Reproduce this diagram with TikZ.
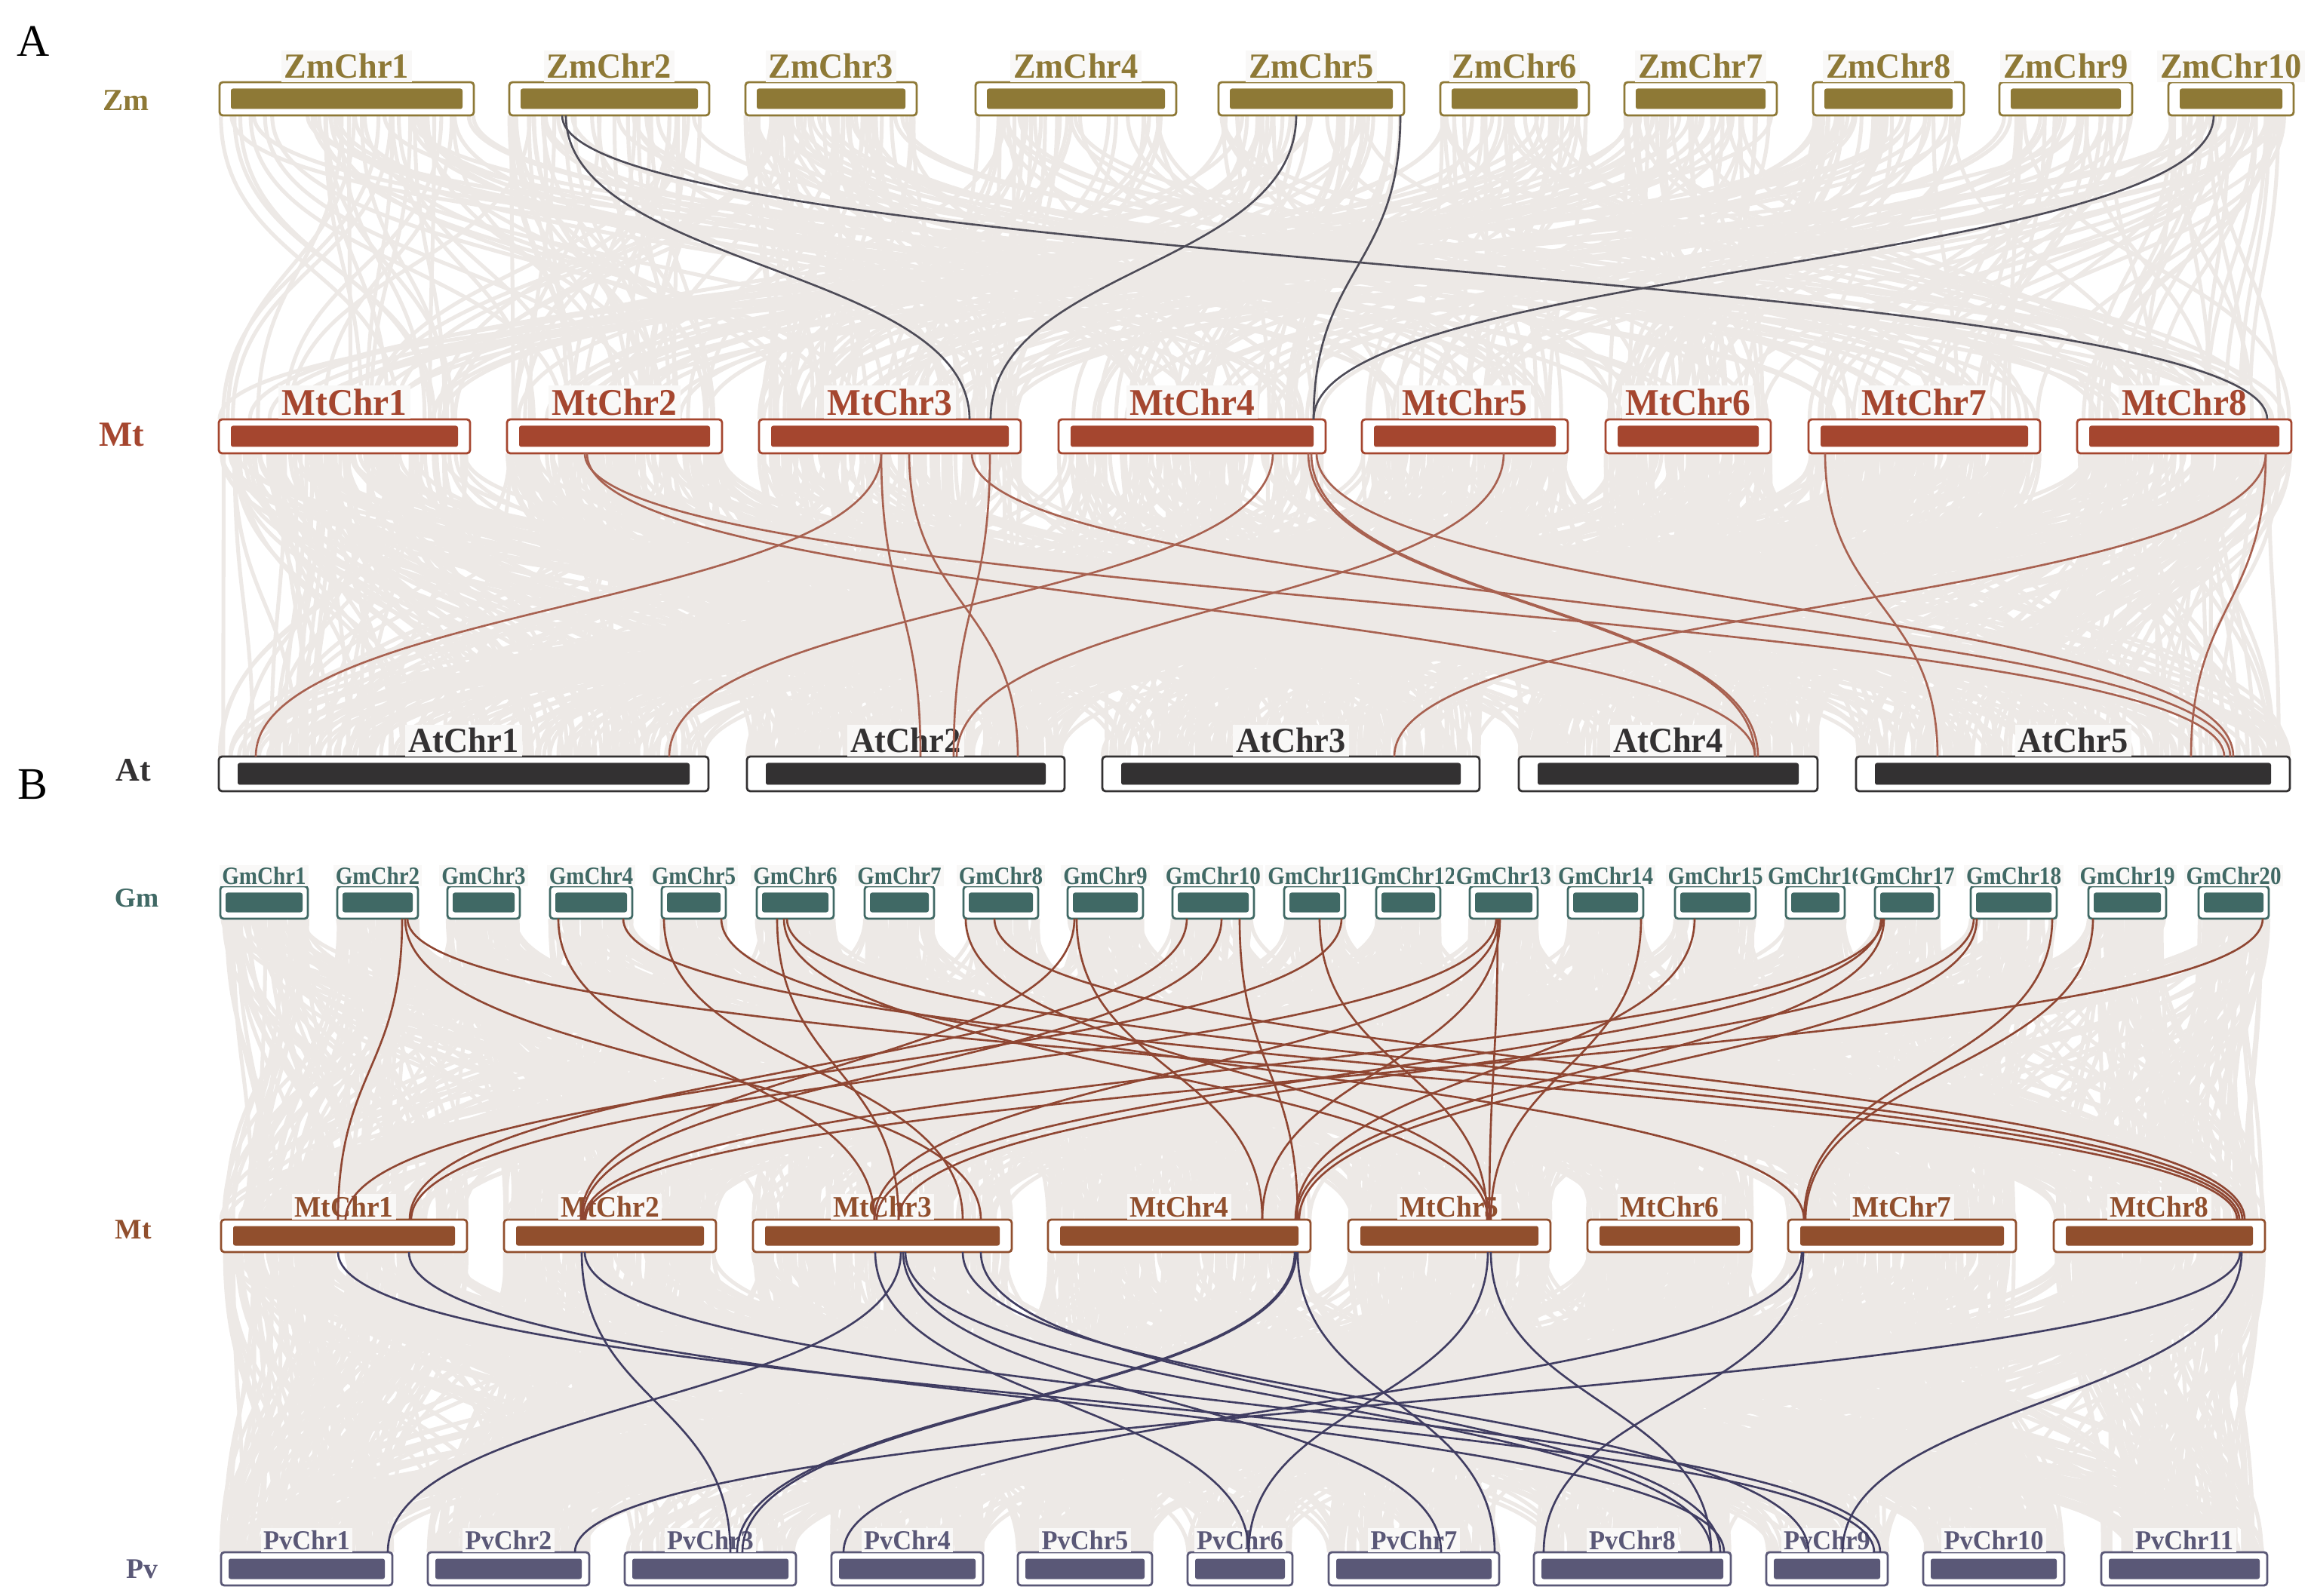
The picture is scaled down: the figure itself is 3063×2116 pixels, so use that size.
\documentclass[tikz,border=0pt]{standalone}
\usepackage{fontspec}
\setmainfont{Liberation Serif}
\newfontfamily\labfont{Liberation Serif}[FakeStretch=0.95]
\newfontfamily\labfontn{Liberation Serif}[FakeStretch=0.88]
\definecolor{zmc}{HTML}{8E7936}
\definecolor{mtac}{HTML}{A5462F}
\definecolor{atc}{HTML}{333132}
\definecolor{gmc}{HTML}{406965}
\definecolor{mtbc}{HTML}{914F2D}
\definecolor{pvc}{HTML}{5A5877}
\definecolor{grl}{HTML}{EDE9E6}
\definecolor{hzm}{HTML}{4D4B57}
\definecolor{hat}{HTML}{A86150}
\definecolor{hgm}{HTML}{8F4632}
\definecolor{hpv}{HTML}{403D62}
\definecolor{labbg}{HTML}{F9F8F7}

% chromosome: name, x1, x2, y1, y2, colour, inner margin, label, label y
\newcommand\chrom[9]{%
  \draw[draw=#6, line width=0.8pt, fill=white, rounded corners=1.2pt] (#2,#4) rectangle (#3,#5);
  \fill[#6, rounded corners=0.8pt] ({#2+#7},{#4+8.5}) rectangle ({#3-#7},{#5-8.5});
  \node[labstyle, text=#6] (#1) at ({(#2+#3)/2},#9) {#8};
}
% synteny link: style, x1, y1, x2, y2
\newcommand\lk[5]{\draw[#1] (#2,#3) .. controls (#2,{(#3+#5)/2}) and (#4,{(#3+#5)/2}) .. (#4,#5);}
% background band: N, starts1, ends1, last index1, y1, starts2, ends2, last index2, y2
\newcommand\grayband[9]{%
  \foreach \i in {1,...,#1}{%
    \pgfmathtruncatemacro\ka{random(0,#4)}%
    \pgfmathsetmacro\pl{rnd}%
    \pgfmathtruncatemacro\kb{\pl<0.45 ? round(\ka*#8/#4) : random(0,#8)}%
    \pgfmathsetmacro\xa{#2[\ka]+rnd*(#3[\ka]-#2[\ka])}%
    \pgfmathsetmacro\xb{#6[\kb]+rnd*(#7[\kb]-#6[\kb])}%
    \draw[grayln] (\xa,#5) .. controls (\xa,{(#5+#9)/2}) and (\xb,{(#5+#9)/2}) .. (\xb,#9);
  }}

\def\ZS{{291,675,988,1293,1615,1909,2153,2403,2650,2874}}
\def\ZE{{628,940,1215,1559,1861,2106,2355,2603,2826,3040}}
\def\MAS{{290,672,1006,1403,1805,2128,2397,2753}}
\def\MAE{{623,957,1353,1757,2078,2347,2704,3037}}
\def\AS{{290,990,1461,2013,2460}}
\def\AE{{939,1411,1961,2409,3035}}
\def\GS{{292,447,593,729,877,1003,1146,1277,1415,1554,1702,1824,1948,2078,2220,2367,2485,2612,2768,2914}}
\def\GE{{408,554,689,838,962,1105,1238,1376,1515,1662,1783,1909,2038,2178,2327,2445,2570,2726,2871,3007}}
\def\MBS{{293,668,998,1389,1787,2104,2370,2722}}
\def\MBE{{619,949,1341,1737,2055,2322,2672,3002}}
\def\PS{{293,567,828,1102,1349,1574,1761,2033,2341,2549,2785}}
\def\PE{{520,781,1055,1303,1527,1713,1987,2294,2502,2736,3005}}

\begin{document}
\begin{tikzpicture}[x=0.01cm,y=-0.01cm,
  grayln/.style={draw=grl, line width=1.45pt},
  hzml/.style={draw=hzm, line width=0.75pt},
  hatl/.style={draw=hat, line width=0.75pt},
  hgml/.style={draw=hgm, line width=0.75pt},
  hpvl/.style={draw=hpv, line width=0.75pt},
  rowlab/.style={font=\bfseries\fontsize{#1}{#1}\selectfont},
  panel/.style={font=\fontsize{17}{18}\selectfont}]
\useasboundingbox (0,0) rectangle (3063,2116);
\pgfmathsetseed{4242}

% ---------- background synteny ----------
\grayband{420}{\ZS}{\ZE}{9}{153}{\MAS}{\MAE}{7}{556}
\grayband{1100}{\MAS}{\MAE}{7}{601}{\AS}{\AE}{4}{1003}
\grayband{1500}{\GS}{\GE}{19}{1218}{\MBS}{\MBE}{7}{1617}
\grayband{1500}{\MBS}{\MBE}{7}{1660}{\PS}{\PE}{10}{2058}

% ---------- panel labels and row labels ----------
\node[panel] (pA) at (44,55) {A};
\node[panel] (pB) at (43,1040) {B};
\node[rowlab=11.6, text=zmc] (rzm) at (167,133) {Zm};
\node[rowlab=13.3, text=mtac] (rmta) at (161,576) {Mt};
\node[rowlab=12.5, text=atc] (rat) at (177,1021) {At};
\node[rowlab=10.3, text=gmc] (rgm) at (181,1191) {Gm};
\node[rowlab=10.7, text=mtbc] (rmtb) at (177,1630) {Mt};
\node[rowlab=10.7, text=pvc] (rpv) at (188,2080) {Pv};

% ---------- chromosomes ----------
\tikzset{labstyle/.style={font=\labfont\bfseries\fontsize{13.3}{14}\selectfont, fill=labbg, inner sep=1.2pt}}
\foreach \n/\a/\b in {1/291/628,2/675/940,3/988/1215,4/1293/1559,5/1615/1861,6/1909/2106,7/2153/2355,8/2403/2603,9/2650/2826,10/2874/3040}
  {\chrom{zm\n}{\a}{\b}{109}{153}{zmc}{15}{ZmChr\n}{88}}
\tikzset{labstyle/.style={font=\labfont\bfseries\fontsize{14.2}{15}\selectfont, fill=labbg, inner sep=1.2pt}}
\foreach \n/\a/\b in {1/290/623,2/672/957,3/1006/1353,4/1403/1757,5/1805/2078,6/2128/2347,7/2397/2704,8/2753/3037}
  {\chrom{mta\n}{\a}{\b}{556}{601}{mtac}{16}{MtChr\n}{533}}
\tikzset{labstyle/.style={font=\labfont\bfseries\fontsize{13.3}{14}\selectfont, fill=labbg, inner sep=1.2pt}}
\foreach \n/\a/\b in {1/290/939,2/990/1411,3/1461/1961,4/2013/2409,5/2460/3035}
  {\chrom{at\n}{\a}{\b}{1003}{1049}{atc}{25}{AtChr\n}{982}}
\tikzset{labstyle/.style={font=\labfontn\bfseries\fontsize{9.4}{10}\selectfont, fill=labbg, inner sep=0.8pt}}
\foreach \n/\a/\b in {1/292/408,2/447/554,3/593/689,4/729/838,5/877/962,6/1003/1105,7/1146/1238,8/1277/1376,9/1415/1515,10/1554/1662,11/1702/1783,12/1824/1909,13/1948/2038,14/2078/2178,15/2220/2327,16/2367/2445,17/2485/2570,18/2612/2726,19/2768/2871,20/2914/3007}
  {\chrom{gm\n}{\a}{\b}{1175}{1218}{gmc}{7}{GmChr\n}{1161}}
\tikzset{labstyle/.style={font=\labfont\bfseries\fontsize{11.2}{12}\selectfont, fill=labbg, inner sep=1pt}}
\foreach \n/\a/\b in {1/293/619,2/668/949,3/998/1341,4/1389/1737,5/1787/2055,6/2104/2322,7/2370/2672,8/2722/3002}
  {\chrom{mtb\n}{\a}{\b}{1617}{1660}{mtbc}{16}{MtChr\n}{1600}}
\tikzset{labstyle/.style={font=\labfont\bfseries\fontsize{10.3}{11}\selectfont, fill=labbg, inner sep=1pt}}
\foreach \n/\a/\b in {1/293/520,2/567/781,3/828/1055,4/1102/1303,5/1349/1527,6/1574/1713,7/1761/1987,8/2033/2294,9/2341/2502,10/2549/2736,11/2785/3005}
  {\chrom{pv\n}{\a}{\b}{2058}{2102}{pvc}{10}{PvChr\n}{2042}}

% ---------- highlighted links ----------
\foreach \a/\b in {745/3005,750/1285,1718/1313,1856/1741,2934/1741}
  {\lk{hzml}{\a}{153}{\b}{556}}
\foreach \a/\b in {775/2948,778/2326,1168/339,1168/1220,1205/1349,1288/2956,1312/1264,1687/887,1993/1268,1734/2326,1738/2330,1745/2960,2419/2568,3003/1848,3003/2904}
  {\lk{hatl}{\a}{601}{\b}{1003}}
\foreach \a/\b in {533/448,537/1300,540/2965,740/1159,826/2968,880/1276,956/2391,1030/1191,1039/1972,1043/2972,1280/1975,1318/2975,1427/1673,1424/770,1573/543,1619/772,1643/1720,1749/1971,1778/458,1983/545,1986/1159,1988/1673,1985/1974,2175/1976,2246/1717,2493/1162,2495/774,2497/1718,2616/1191,2620/1722,2720/2391,2774/2393,2999/776}
  {\lk{hgml}{\a}{1218}{\b}{1617}}
\foreach \a/\b in {448/2484,542/2285,771/968,775/2492,1194/514,1160/1655,1197/1910,1200/2268,1276/2397,1300/2280,1716/977,1718/984,1720/1981,1972/1655,1976/2268,2390/2046,2388/1118,2971/2442,2969/762}
  {\lk{hpvl}{\a}{1660}{\b}{2058}}
\end{tikzpicture}
\end{document}
